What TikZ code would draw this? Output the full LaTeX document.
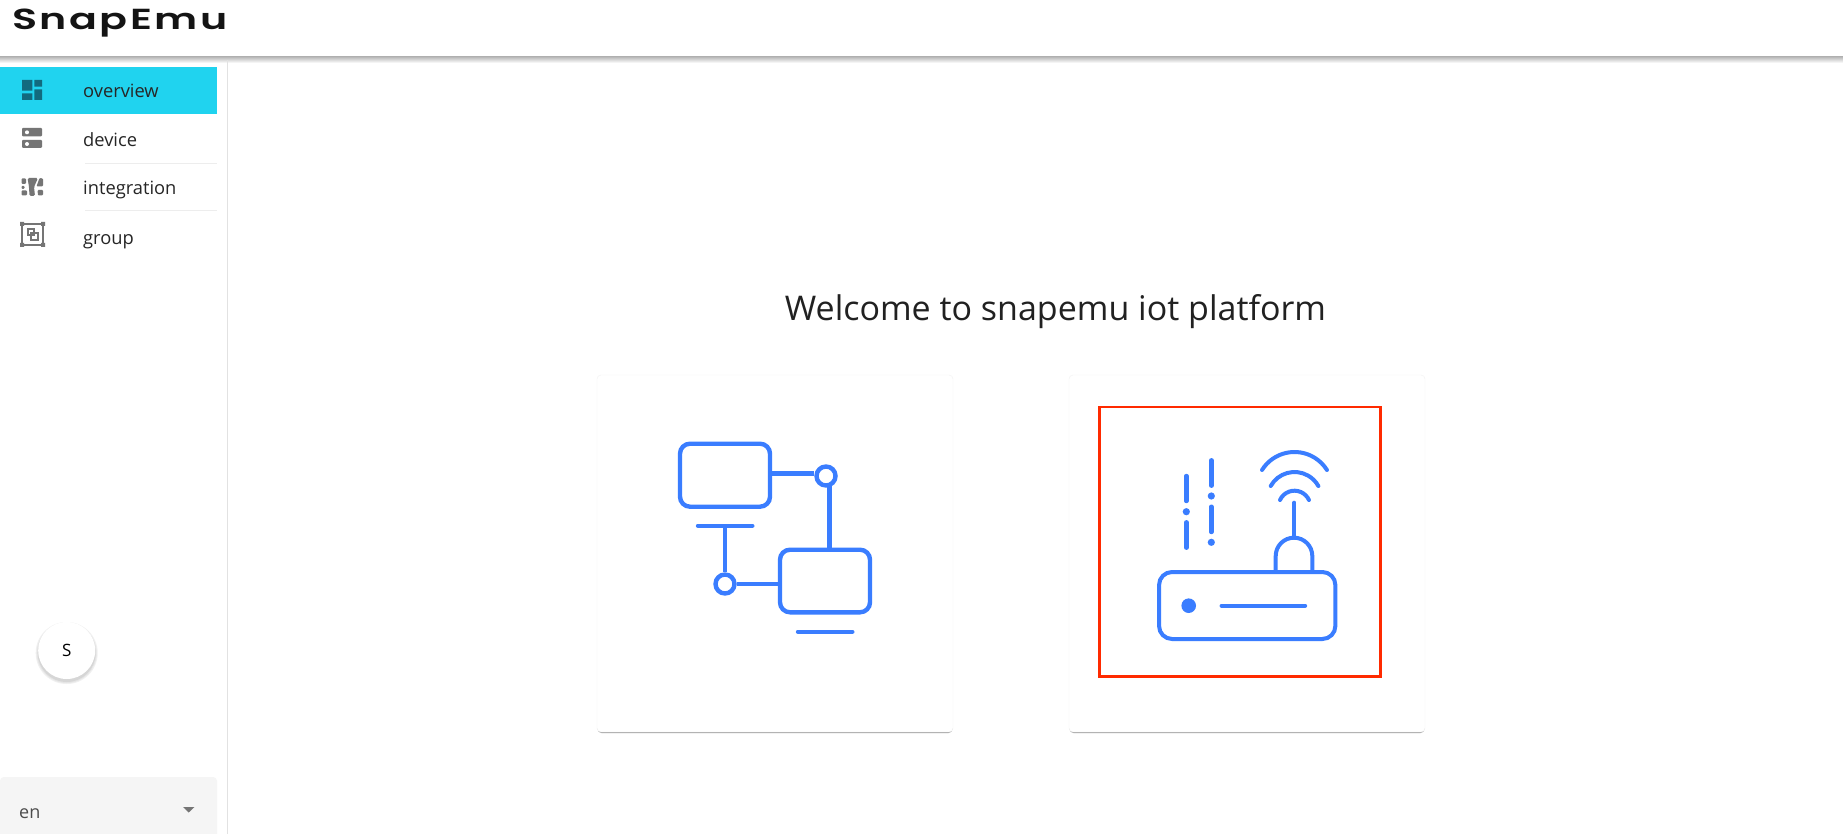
\documentclass[tikz,border=0pt]{standalone}
\usepackage{fontspec}
\setmainfont{Open Sans}
\newfontfamily\logofont[LetterSpace=6]{Poppins SemiBold}
\definecolor{iconblue}{HTML}{3A7DFF}
\definecolor{cyanbar}{HTML}{20D3EF}
\definecolor{tealicon}{HTML}{126A7E}
\definecolor{grayicon}{HTML}{757575}
\definecolor{redbox}{HTML}{FF2A00}
\definecolor{rulegray}{HTML}{E2E2E2}
\tikzset{
  x=1pt,y=-1pt,
  iconline/.style={draw=iconblue,line width=4.4pt,line cap=round},
  iconbox/.style={draw=iconblue,line width=4.4pt,rectangle,rounded corners=10pt,inner sep=0pt,fill=white},
  iconring/.style={draw=iconblue,line width=4.4pt,circle,inner sep=0pt,minimum size=19pt,fill=white},
  card/.style={rectangle,draw=black!5,fill=white,rounded corners=4pt,inner sep=0pt,minimum width=356pt,minimum height=357pt},
  cardshadow/.style={rectangle,fill=black!38,rounded corners=4pt,inner sep=0pt,minimum width=355pt,minimum height=357pt},
  navlabel/.style={anchor=base west,inner sep=0pt,font=\fontsize{18.3}{20}\selectfont,text=black!85},
  graysolid/.style={fill=grayicon,draw=none},
  tealsolid/.style={fill=tealicon,draw=none},
  wifi/.style={draw=iconblue,line width=4pt,line cap=round},
}
\begin{document}
\begin{tikzpicture}
\useasboundingbox (0,0) rectangle (1843,834);
\fill[white] (0,0) rectangle (1843,834);
% header shadow
\shade[top color=black!27,bottom color=white] (0,57) rectangle (1843,63);
% sidebar
\draw[rulegray,line width=1pt] (227.5,60) -- (227.5,834);
\node[anchor=base west,inner sep=0pt,font=\logofont\fontsize{29}{36}\selectfont,xscale=1.42,text=black!92] (logo) at (12,30) {SnapEmu};
\fill[cyanbar] (0,67) rectangle (217,114);
\foreach \yy in {163.5,211} \draw[black!7,line width=1pt] (85,\yy) -- (217,\yy);
% overview icon
\fill[tealsolid] (22,80) rectangle (32.3,90.7) (22,93.3) rectangle (32.3,100) (34.3,80) rectangle (42,86.7) (34.3,89.3) rectangle (42,100);
% device icon
\fill[graysolid,rounded corners=1pt] (22,128) rectangle (42,136.5) (22,140) rectangle (42,148);
\fill[white] (27,132.3) circle (2) (27,144) circle (2);
% integration icon
\fill[graysolid,rounded corners=1pt] (21.5,178.5) rectangle (26,184) (21.5,186) rectangle (24.5,189) (21.5,190.5) rectangle (27,195.5);
\fill[graysolid,rounded corners=1.5pt] (27.5,178) -- (38,178) -- (34,187) -- (35,196) -- (29.5,196) -- (29,187) -- cycle;
\fill[graysolid,rounded corners=1pt] (39.5,178) -- (43,178.5) -- (43,186.5) -- (36.5,186.5) -- cycle (37.5,190) -- (43,190) -- (43,195.5) -- (38,195.5) -- cycle;
% group icon
\draw[grayicon,line width=1.4pt] (22,224) rectangle (43,245);
\fill[grayicon] (20,222) rectangle (24,226) (41,222) rectangle (45,226) (20,243) rectangle (24,247) (41,243) rectangle (45,247);
\draw[grayicon,line width=1.2pt] (28,229) rectangle (34,235) (31,233) rectangle (38,240);
% nav labels
\node[navlabel] (nav1) at (83,98) {overview};
\node[navlabel] (nav2) at (83,147) {device};
\node[navlabel] (nav3) at (83,195) {integration};
\node[navlabel] (nav4) at (83,244) {group};
% S button
\foreach \rr/\op in {31/6,30/10,29/16} \fill[black!\op] (66.7,653) circle (\rr);
\node[circle,fill=white,minimum size=57pt,inner sep=0pt,font=\fontsize{17}{20}\selectfont] (sbtn) at (66.7,650.5) {S};
% language selector
\fill[black!4,rounded corners=4pt] (0,777) rectangle (217,850);
\node[anchor=base west,inner sep=0pt,font=\fontsize{18}{20}\selectfont,text=black!70] (lang) at (19,818) {en};
\fill[grayicon] (183,807) -- (194.5,807) -- (188.7,812.5) -- cycle;
% title
\node[inner sep=0pt,anchor=base,font=\fontsize{34}{40}\selectfont,text=black!87] (title) at (1055.5,320) {Welcome to snapemu iot platform};
% cards
\node[cardshadow] (s1) at (775,554.5) {};
\node[cardshadow] (s2) at (1247,554.5) {};
\node[card] (card1) at (775,553.5) {};
\node[card] (card2) at (1247,553.5) {};
% network icon
\node[iconbox,minimum width=90pt,minimum height=63pt] (r1) at (725,475.2) {};
\node[iconbox,minimum width=90pt,minimum height=62.6pt] (r2) at (825,581) {};
\node[iconring] (c1) at (826,476) {};
\node[iconring] (c2) at (725,584) {};
\coordinate (bar1a) at (698,525.7);
\coordinate (bar1b) at (752.3,525.7);
\coordinate (bar1m) at (725,525.7);
\coordinate (bar2a) at (798,631.7);
\coordinate (bar2b) at (852.3,631.7);
\draw[iconline] (bar1a) -- (bar1b);
\draw[iconline] (bar2a) -- (bar2b);
\draw[iconline,line cap=butt] (bar1m) -- (c2.north);
\draw[iconline,line cap=butt] (c2.east) -- (r2.west |- c2.east);
\draw[iconline,line cap=butt] (r1.east |- 0,473.3) -- (c1.west |- 0,473.3);
\draw[iconline,line cap=butt] (829.3,486) -- (r2.north -| 829.3,0);
% router icon
\draw[iconline,line width=4pt,line cap=butt] (1275.7,572) -- (1275.7,556) arc[start angle=-180,end angle=0,radius=18.3] -- (1312.3,572);
\node[iconbox,line width=4pt,rounded corners=13pt,fill=none,minimum width=176.3pt,minimum height=67pt] (router) at (1247.2,605.5) {};
\fill[iconblue] (1188.7,605.7) circle (7.3);
\draw[iconline] (1221.7,605.7) -- (1305,605.7);
\draw[iconline,line width=4pt] (1294.3,502.7) -- (1294.3,537.7);
\draw[wifi] (1262,470) arc[start angle=-148,end angle=-32,radius=38.3];
\draw[wifi] (1270.7,486) arc[start angle=-150.8,end angle=-29.2,radius=27.3];
\draw[wifi] (1280,500) arc[start angle=-155.5,end angle=-24.5,radius=15.9];
\draw[iconline] (1186.3,476) -- (1186.3,501);
\fill[iconblue] (1186.3,511.7) circle (3.6);
\draw[iconline] (1186.3,522.3) -- (1186.3,547.7);
\draw[iconline] (1211.3,460.3) -- (1211.3,485.7);
\fill[iconblue] (1211.3,496) circle (3.6);
\draw[iconline] (1211.3,506.7) -- (1211.3,532);
\fill[iconblue] (1211.3,542.3) circle (3.6);
% red box
\node[rectangle,draw=redbox,line width=2.6pt,inner sep=0pt,minimum width=281pt,minimum height=269.5pt] (redframe) at (1239.7,541.8) {};
\end{tikzpicture}
\end{document}
